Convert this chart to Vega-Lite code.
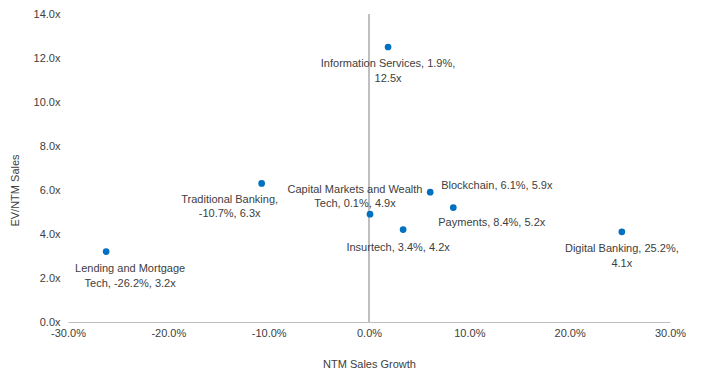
{
  "$schema": "https://vega.github.io/schema/vega-lite/v6.json",
  "width": 602,
  "height": 308,
  "autosize": "none",
  "padding": {"left": 68, "top": 14, "right": 31, "bottom": 52},
  "background": "white",
  "config": {
    "view": {"stroke": null},
    "font": "Liberation Sans",
    "text": {"font": "Liberation Sans", "fontSize": 11, "color": "#404040"},
    "axis": {"labelFont": "Liberation Sans", "titleFont": "Liberation Sans", "labelFontSize": 11, "titleFontSize": 11, "labelColor": "#404040", "titleColor": "#404040", "titleFontWeight": "normal"}
  },
  "data": {
    "values": [
      {"segment": "Information Services", "growth": 0.019, "multiple": 12.5, "label": "Information Services, 1.9%,\n12.5x"},
      {"segment": "Traditional Banking", "growth": -0.107, "multiple": 6.3, "label": "Traditional Banking,\n-10.7%, 6.3x"},
      {"segment": "Lending and Mortgage Tech", "growth": -0.262, "multiple": 3.2, "label": "Lending and Mortgage\nTech, -26.2%, 3.2x"},
      {"segment": "Capital Markets and Wealth Tech", "growth": 0.001, "multiple": 4.9, "label": "Capital Markets and Wealth\nTech, 0.1%, 4.9x"},
      {"segment": "Insurtech", "growth": 0.034, "multiple": 4.2, "label": "Insurtech, 3.4%, 4.2x"},
      {"segment": "Blockchain", "growth": 0.061, "multiple": 5.9, "label": "Blockchain, 6.1%, 5.9x"},
      {"segment": "Payments", "growth": 0.084, "multiple": 5.2, "label": "Payments, 8.4%, 5.2x"},
      {"segment": "Digital Banking", "growth": 0.252, "multiple": 4.1, "label": "Digital Banking, 25.2%,\n4.1x"}
    ]
  },
  "encoding": {
    "x": {
      "field": "growth", "type": "quantitative",
      "scale": {"domain": [-0.3, 0.3], "nice": false, "zero": false},
      "axis": {
        "title": "NTM Sales Growth",
        "labelExpr": "replace(format(datum.value, '.1%'), '\u2212', '-')",
        "values": [-0.3, -0.2, -0.1, 0, 0.1, 0.2, 0.3],
        "grid": false, "ticks": false, "domain": true, "domainColor": "#BFBFBF",
        "labelPadding": 5, "labelFlush": false, "labelOverlap": false,
        "titleY": 36, "titleBaseline": "top"
      }
    },
    "y": {
      "field": "multiple", "type": "quantitative",
      "scale": {"domain": [0, 14], "nice": false},
      "axis": {
        "title": "EV/NTM Sales",
        "values": [0, 2, 4, 6, 8, 10, 12, 14],
        "labelExpr": "format(datum.value, '.1f') + 'x'",
        "grid": false, "ticks": false, "domain": false,
        "labelPadding": 8, "labelFlush": false, "labelOverlap": false,
        "titleX": -53, "titleY": 176, "titleAngle": -90, "titleAlign": "center", "titleBaseline": "middle"
      }
    }
  },
  "layer": [
    {
      "mark": {"type": "rule", "color": "#BFBFBF", "strokeWidth": 1},
      "encoding": {"x": {"datum": 0}, "y": null}
    },
    {
      "mark": {"type": "circle", "size": 45, "color": "#0070C0", "opacity": 1}
    },
    {
      "transform": [{"filter": "datum.segment === 'Information Services' || datum.segment === 'Digital Banking'"}],
      "mark": {"type": "text", "align": "center", "baseline": "top", "lineBreak": "\n", "lineHeight": 15, "dx": 0, "dy": 11},
      "encoding": {"text": {"field": "label"}}
    },
    {
      "transform": [{"filter": "datum.segment === 'Insurtech'"}],
      "mark": {"type": "text", "align": "center", "baseline": "top", "lineBreak": "\n", "lineHeight": 15, "dx": -5, "dy": 12},
      "encoding": {"text": {"field": "label"}}
    },
    {
      "transform": [{"filter": "datum.segment === 'Lending and Mortgage Tech'"}],
      "mark": {"type": "text", "align": "center", "baseline": "top", "lineBreak": "\n", "lineHeight": 15, "dx": 24, "dy": 11},
      "encoding": {"text": {"field": "label"}}
    },
    {
      "transform": [{"filter": "datum.segment === 'Traditional Banking'"}],
      "mark": {"type": "text", "align": "center", "baseline": "top", "lineBreak": "\n", "lineHeight": 14, "dx": -32, "dy": 11},
      "encoding": {"text": {"field": "label"}}
    },
    {
      "transform": [{"filter": "datum.segment === 'Capital Markets and Wealth Tech'"}],
      "mark": {"type": "text", "align": "center", "baseline": "top", "lineBreak": "\n", "lineHeight": 14, "dx": -15, "dy": -30},
      "encoding": {"text": {"field": "label"}}
    },
    {
      "transform": [{"filter": "datum.segment === 'Blockchain'"}],
      "mark": {"type": "text", "align": "left", "baseline": "top", "lineBreak": "\n", "lineHeight": 15, "dx": 11, "dy": -12},
      "encoding": {"text": {"field": "label"}}
    },
    {
      "transform": [{"filter": "datum.segment === 'Payments'"}],
      "mark": {"type": "text", "align": "left", "baseline": "top", "lineBreak": "\n", "lineHeight": 15, "dx": -15, "dy": 9},
      "encoding": {"text": {"field": "label"}}
    }
  ]
}
